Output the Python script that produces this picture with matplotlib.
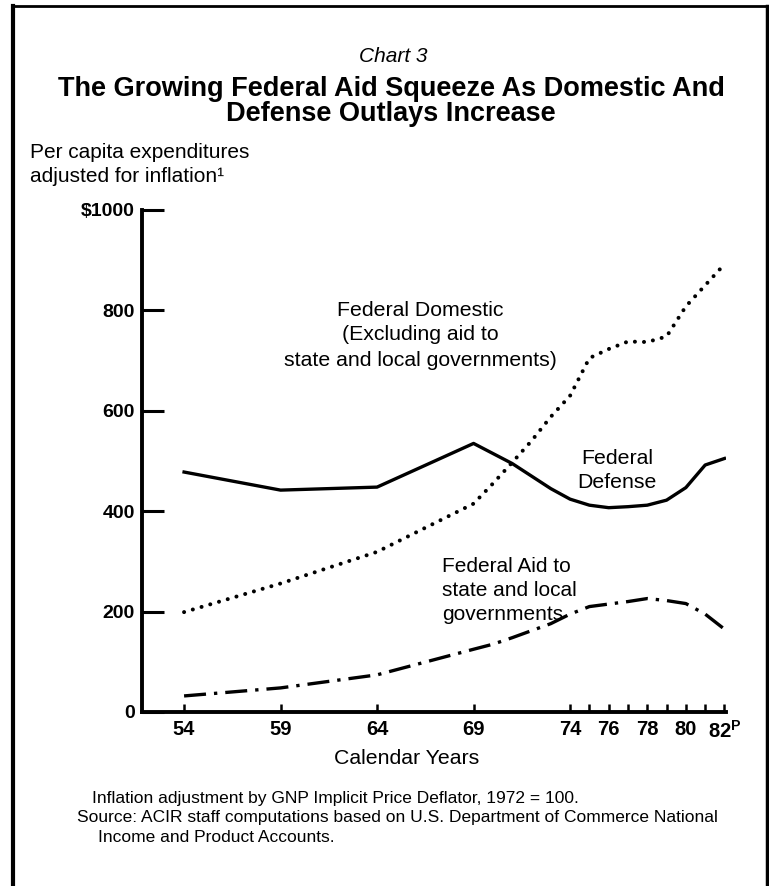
import matplotlib
matplotlib.use('Agg')
import matplotlib.pyplot as plt
from matplotlib.lines import Line2D

plt.rcParams['font.family'] = ['Liberation Sans', 'DejaVu Sans']
plt.rcParams['mathtext.fontset'] = 'custom'
plt.rcParams['mathtext.rm'] = 'Liberation Sans'
plt.rcParams['mathtext.bf'] = 'Liberation Sans:bold'

# data (per capita dollars, 1972 prices)
years = [54, 59, 64, 69, 70, 71, 72, 73, 74, 75, 76, 77, 78, 79, 80, 81, 82]
defense = [478, 442, 448, 535, 515, 495, 470, 445, 424, 412, 407, 409, 412, 422, 447, 492, 505]
domestic = [199, 256, 319, 415, 455, 497, 540, 588, 630, 705, 723, 738, 737, 748, 808, 850, 892]
aid = [32, 48, 74, 125, 135, 148, 162, 176, 195, 210, 215, 220, 226, 222, 216, 195, 165]

tick_years = [54, 59, 64, 69, 74, 75, 76, 77, 78, 79, 80, 81, 82]
tick_labels = ['54', '59', '64', '69', '74', '', '76', '', '78', '', '80', '', r'82$^{\mathbf{P}}$']
y_ticks = [0, 200, 400, 600, 800, 1000]
y_labels = ['0', '200', '400', '600', '800', '$1000']

W, H = 769, 886


def fx(px):
	return px / W


def fy(py):
	return 1 - py / H


fig = plt.figure(figsize=(W / 100, H / 100), dpi=100)
ax = fig.add_axes([fx(142), fy(712), (726.4 - 142) / W, (712 - 210) / H])

ax.plot(years, defense, color='black', lw=2.4, solid_joinstyle='round')
ax.plot(years, domestic, color='black', lw=2.9,
		linestyle=(0, (0.01, 2.25)), dash_capstyle='round')
ax.plot(years, aid, color='black', lw=2.4,
		linestyle=(0, (6.6, 2.4, 1.0, 2.4)), dash_capstyle='butt')

ax.set_xlim(51.82, 82.1)
ax.set_ylim(0, 1000)

for s in ['top', 'right']:
	ax.spines[s].set_visible(False)
for s in ['left', 'bottom']:
	ax.spines[s].set_linewidth(2.8)

ax.set_xticks(tick_years)
ax.set_xticklabels(tick_labels)
ax.set_yticks(y_ticks)
ax.set_yticklabels(y_labels)
ax.tick_params(axis='y', direction='in', length=16, width=2.2, pad=5, labelsize=14)
ax.tick_params(axis='x', direction='in', length=5.8, width=1.8, pad=6, labelsize=14.5)
for lab in ax.get_xticklabels() + ax.get_yticklabels():
	lab.set_fontweight('bold')

# titles
fig.text(fx(393), fy(61.5), 'Chart 3', ha='center', fontsize=15, style='italic')
fig.text(fx(391), fy(96), 'The Growing Federal Aid Squeeze As Domestic And',
		 ha='center', fontsize=19.5, fontweight='bold')
fig.text(fx(391), fy(121), 'Defense Outlays Increase',
		 ha='center', fontsize=19.5, fontweight='bold')

# y axis caption
fig.text(fx(30), fy(157.5), 'Per capita expenditures', fontsize=15)
fig.text(fx(30), fy(182.5), 'adjusted for inflation\u00b9', fontsize=15)

# line labels
for i, t in enumerate(['Federal Domestic', '(Excluding aid to', 'state and local governments)']):
	fig.text(fx(420), fy(315.5 + 25 * i), t, ha='center', fontsize=15.3)
for i, t in enumerate(['Federal', 'Defense']):
	fig.text(fx(617), fy(464.5 + 23 * i), t, ha='center', fontsize=15.3)
for i, t in enumerate(['Federal Aid to', 'state and local', 'governments']):
	fig.text(fx(442), fy(571.5 + 24.5 * i), t, ha='left', fontsize=15)

fig.text(fx(407), fy(764.5), 'Calendar Years', ha='center', fontsize=15.3)

# footnotes
fig.text(fx(92), fy(803), 'Inflation adjustment by GNP Implicit Price Deflator, 1972 = 100.', fontsize=12.5)
fig.text(fx(77), fy(822), 'Source: ACIR staff computations based on U.S. Department of Commerce National',
		 fontsize=12.5)
fig.text(fx(98), fy(842), 'Income and Product Accounts.', fontsize=12.5)

# frame round the chart
fig.add_artist(Line2D([fx(12.7), fx(12.7)], [fy(6), 0], color='black', lw=3))
fig.add_artist(Line2D([fx(12.7), fx(767)], [fy(6), fy(6)], color='black', lw=2))
fig.add_artist(Line2D([fx(767), fx(767)], [fy(6), 0], color='black', lw=2.5))

fig.savefig('out.png', dpi=100)
